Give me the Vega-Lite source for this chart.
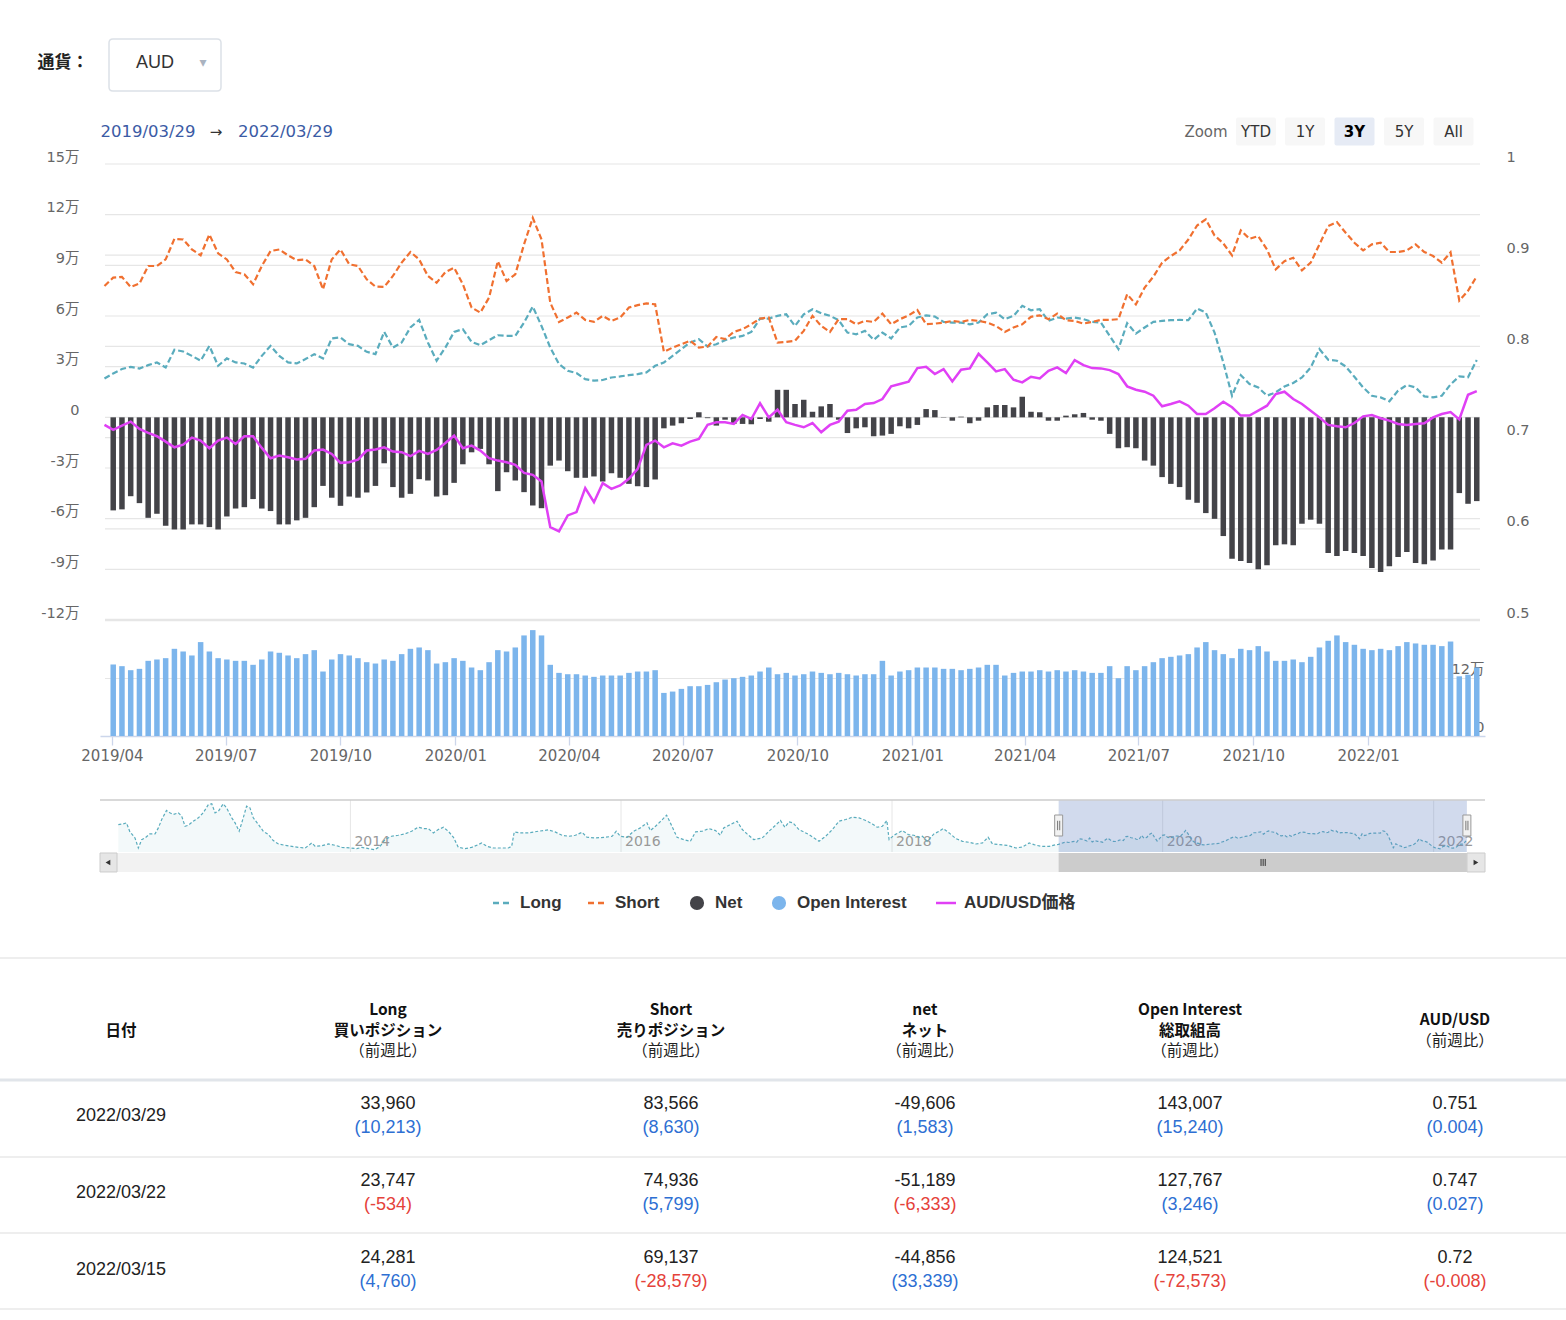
{
  "$schema": "https://vega.github.io/schema/vega-lite/v6.json",
  "padding": 0,
  "background": "#ffffff",
  "spacing": 0,
  "bounds": "flush",
  "config": {
    "view": {"stroke": null},
    "axis": {"labelFont": "DejaVu Sans, Noto Sans CJK JP", "labelColor": "#666666", "title": null, "grid": false}
  },
  "datasets": {
    "cot": [
      {"date":"2012-04-15","long":83400},{"date":"2012-04-28","long":85400},{"date":"2012-05-07","long":88500},{"date":"2012-05-16","long":62000},{"date":"2012-05-30","long":42700},{"date":"2012-06-08","long":12200},{"date":"2012-06-17","long":37600},{"date":"2012-06-26","long":42700},{"date":"2012-07-09","long":54900},{"date":"2012-07-23","long":54900},{"date":"2012-08-01","long":73200},{"date":"2012-08-10","long":98600},{"date":"2012-08-23","long":126100},{"date":"2012-09-01","long":119000},{"date":"2012-09-10","long":113900},{"date":"2012-09-24","long":119000},{"date":"2012-10-03","long":108800},{"date":"2012-10-12","long":78300},{"date":"2012-10-21","long":81400},{"date":"2012-11-03","long":93600},{"date":"2012-11-17","long":103800},{"date":"2012-11-30","long":119000},{"date":"2012-12-14","long":144400},{"date":"2012-12-23","long":146500},
      {"date":"2013-01-01","long":119000},{"date":"2013-01-10","long":124000},{"date":"2013-01-23","long":146500},{"date":"2013-02-01","long":134300},{"date":"2013-02-15","long":103800},{"date":"2013-02-24","long":88500},{"date":"2013-03-07","long":63100},{"date":"2013-03-18","long":103800},{"date":"2013-03-27","long":139400},{"date":"2013-04-05","long":134300},{"date":"2013-04-14","long":103800},{"date":"2013-04-28","long":83400},{"date":"2013-05-11","long":63100},{"date":"2013-05-25","long":52900},{"date":"2013-06-07","long":34600},{"date":"2013-06-21","long":24400},{"date":"2013-07-09","long":20300},{"date":"2013-07-27","long":17300},{"date":"2013-08-14","long":14200},{"date":"2013-09-01","long":12200},{"date":"2013-09-19","long":27500},{"date":"2013-09-28","long":17300},{"date":"2013-10-16","long":19300},{"date":"2013-11-03","long":24400},{"date":"2013-11-21","long":20300},{"date":"2013-12-09","long":14200},
      {"date":"2014-01-01","long":12200},{"date":"2014-01-18","long":10200},{"date":"2014-02-01","long":14200},{"date":"2014-02-19","long":10200},{"date":"2014-03-08","long":7100},{"date":"2014-03-22","long":17300},{"date":"2014-04-04","long":37600},{"date":"2014-04-22","long":47800},{"date":"2014-05-10","long":50900},{"date":"2014-05-28","long":54900},{"date":"2014-06-15","long":63100},{"date":"2014-07-03","long":75300},{"date":"2014-07-17","long":71200},{"date":"2014-07-30","long":71200},{"date":"2014-08-13","long":58000},{"date":"2014-08-26","long":68200},{"date":"2014-09-09","long":75300},{"date":"2014-09-22","long":63100},{"date":"2014-10-06","long":44800},{"date":"2014-10-19","long":14200},{"date":"2014-11-06","long":10200},{"date":"2014-11-24","long":14200},{"date":"2014-12-12","long":22400},{"date":"2014-12-21","long":27500},
      {"date":"2015-01-04","long":17300},{"date":"2015-01-22","long":12200},{"date":"2015-02-09","long":12200},{"date":"2015-03-03","long":12200},{"date":"2015-03-12","long":17300},{"date":"2015-03-19","long":61000},{"date":"2015-04-04","long":58000},{"date":"2015-04-26","long":58000},{"date":"2015-05-23","long":63100},{"date":"2015-06-19","long":67100},{"date":"2015-07-07","long":61000},{"date":"2015-07-26","long":50900},{"date":"2015-08-13","long":47800},{"date":"2015-08-31","long":50900},{"date":"2015-09-18","long":60000},{"date":"2015-10-01","long":44800},{"date":"2015-10-24","long":42700},{"date":"2015-11-20","long":44800},{"date":"2015-12-08","long":47800},{"date":"2015-12-19","long":63100},{"date":"2015-12-30","long":47800},
      {"date":"2016-01-17","long":44800},{"date":"2016-02-04","long":63100},{"date":"2016-02-22","long":73200},{"date":"2016-03-11","long":88500},{"date":"2016-03-20","long":65100},{"date":"2016-04-03","long":78300},{"date":"2016-04-19","long":95600},{"date":"2016-05-03","long":111900},{"date":"2016-05-13","long":88500},{"date":"2016-05-31","long":44800},{"date":"2016-06-18","long":37600},{"date":"2016-07-06","long":32500},{"date":"2016-07-20","long":61000},{"date":"2016-08-07","long":63100},{"date":"2016-08-25","long":71200},{"date":"2016-09-12","long":65100},{"date":"2016-09-25","long":50900},{"date":"2016-10-04","long":73200},{"date":"2016-10-22","long":83400},{"date":"2016-11-09","long":93600},{"date":"2016-11-23","long":68200},{"date":"2016-12-06","long":55000},{"date":"2016-12-24","long":37600},
      {"date":"2017-01-16","long":42700},{"date":"2017-02-03","long":63100},{"date":"2017-02-21","long":81400},{"date":"2017-03-06","long":95600},{"date":"2017-03-18","long":75300},{"date":"2017-03-29","long":91500},{"date":"2017-04-09","long":88500},{"date":"2017-04-25","long":68200},{"date":"2017-05-22","long":52900},{"date":"2017-06-18","long":32500},{"date":"2017-07-06","long":47800},{"date":"2017-07-24","long":68200},{"date":"2017-08-11","long":93600},{"date":"2017-08-29","long":98600},{"date":"2017-09-16","long":105800},{"date":"2017-10-04","long":103800},{"date":"2017-10-22","long":95600},{"date":"2017-11-09","long":85400},{"date":"2017-11-22","long":75300},{"date":"2017-12-06","long":78300},{"date":"2017-12-18","long":95600},{"date":"2017-12-24","long":37600},
      {"date":"2018-01-06","long":50900},{"date":"2018-01-29","long":65100},{"date":"2018-02-14","long":52900},{"date":"2018-03-01","long":50900},{"date":"2018-03-15","long":44800},{"date":"2018-03-24","long":47800},{"date":"2018-04-06","long":32500},{"date":"2018-04-24","long":54900},{"date":"2018-05-08","long":63100},{"date":"2018-05-19","long":71200},{"date":"2018-06-04","long":58000},{"date":"2018-06-22","long":40700},{"date":"2018-07-10","long":32500},{"date":"2018-07-28","long":29500},{"date":"2018-08-15","long":24400},{"date":"2018-09-02","long":27500},{"date":"2018-09-17","long":44800},{"date":"2018-09-29","long":24400},{"date":"2018-10-17","long":22400},{"date":"2018-11-08","long":20300},{"date":"2018-12-01","long":12200},{"date":"2018-12-19","long":15300},
      {"date":"2019-01-06","long":27500},{"date":"2019-01-19","long":22400},{"date":"2019-02-06","long":17300},{"date":"2019-03-01","long":17300},{"date":"2019-03-19","long":22400},
      {"date":"2019-03-26","long":23000,"short":77800,"aud":0.7139},
      {"date":"2019-04-02","long":26000,"short":82700,"net":-55100,"oi":149200,"aud":0.7084},
      {"date":"2019-04-09","long":28600,"short":83100,"net":-54500,"oi":145700,"aud":0.7131},
      {"date":"2019-04-16","long":29900,"short":77200,"net":-46700,"oi":137300,"aud":0.7175},
      {"date":"2019-04-23","long":28900,"short":79200,"net":-50800,"oi":140100,"aud":0.7095},
      {"date":"2019-04-30","long":30900,"short":89600,"net":-59500,"oi":156800,"aud":0.7051},
      {"date":"2019-05-07","long":32500,"short":89600,"net":-57100,"oi":159600,"aud":0.7015},
      {"date":"2019-05-14","long":29500,"short":93500,"net":-64200,"oi":162400,"aud":0.6956},
      {"date":"2019-05-21","long":40000,"short":105700,"net":-66400,"oi":181900,"aud":0.6894},
      {"date":"2019-05-28","long":39000,"short":105300,"net":-66400,"oi":176300,"aud":0.6923},
      {"date":"2019-06-04","long":36400,"short":99400,"net":-63400,"oi":168000,"aud":0.7000},
      {"date":"2019-06-11","long":33500,"short":95900,"net":-63400,"oi":195900,"aud":0.6967},
      {"date":"2019-06-18","long":42300,"short":108300,"net":-65000,"oi":176300,"aud":0.6883},
      {"date":"2019-06-25","long":30500,"short":97100,"net":-66400,"oi":162400,"aud":0.6967},
      {"date":"2019-07-02","long":34900,"short":93500,"net":-58700,"oi":159600,"aud":0.7000},
      {"date":"2019-07-09","long":32500,"short":86000,"net":-54000,"oi":156800,"aud":0.6931},
      {"date":"2019-07-16","long":31900,"short":84700,"net":-53200,"oi":156800,"aud":0.7015},
      {"date":"2019-07-23","long":29500,"short":78800,"net":-48400,"oi":148500,"aud":0.7015},
      {"date":"2019-07-30","long":36400,"short":89600,"net":-54000,"oi":159600,"aud":0.6887},
      {"date":"2019-08-06","long":42300,"short":98500,"net":-55500,"oi":176300,"aud":0.6774},
      {"date":"2019-08-13","long":36400,"short":99400,"net":-63400,"oi":173600,"aud":0.6803},
      {"date":"2019-08-20","long":32500,"short":95900,"net":-63400,"oi":168000,"aud":0.6785},
      {"date":"2019-08-27","long":31900,"short":93100,"net":-61000,"oi":162400,"aud":0.6759},
      {"date":"2019-09-03","long":34500,"short":93500,"net":-59500,"oi":170800,"aud":0.6767},
      {"date":"2019-09-10","long":37400,"short":89600,"net":-53200,"oi":179100,"aud":0.6858},
      {"date":"2019-09-17","long":34900,"short":75800,"net":-40600,"oi":134500,"aud":0.6869},
      {"date":"2019-09-24","long":46700,"short":93500,"net":-47600,"oi":159600,"aud":0.6821},
      {"date":"2019-10-01","long":47300,"short":99400,"net":-52400,"oi":170800,"aud":0.6723},
      {"date":"2019-10-08","long":43300,"short":90600,"net":-46900,"oi":168000,"aud":0.6730},
      {"date":"2019-10-15","long":42300,"short":89600,"net":-47600,"oi":162400,"aud":0.6759},
      {"date":"2019-10-22","long":38800,"short":81700,"net":-44500,"oi":154000,"aud":0.6858},
      {"date":"2019-10-29","long":37400,"short":77400,"net":-40600,"oi":151200,"aud":0.6869},
      {"date":"2019-11-05","long":50600,"short":77200,"net":-27200,"oi":159600,"aud":0.6894},
      {"date":"2019-11-12","long":41300,"short":83700,"net":-41300,"oi":156800,"aud":0.6847},
      {"date":"2019-11-19","long":44300,"short":91600,"net":-47600,"oi":170800,"aud":0.6840},
      {"date":"2019-11-26","long":53200,"short":97900,"net":-45300,"oi":181900,"aud":0.6796},
      {"date":"2019-12-03","long":57700,"short":93500,"net":-36600,"oi":184700,"aud":0.6854},
      {"date":"2019-12-10","long":44300,"short":83700,"net":-37400,"oi":179100,"aud":0.6821},
      {"date":"2019-12-17","long":33500,"short":79700,"net":-46900,"oi":151200,"aud":0.6865},
      {"date":"2019-12-24","long":41300,"short":86000,"net":-46100,"oi":154000,"aud":0.6940},
      {"date":"2019-12-31","long":50600,"short":88600,"net":-38800,"oi":162400,"aud":0.7022},
      {"date":"2020-01-07","long":52200,"short":78800,"net":-27800,"oi":156800,"aud":0.6883},
      {"date":"2020-01-14","long":44700,"short":65000,"net":-20700,"oi":142900,"aud":0.6912},
      {"date":"2020-01-21","long":42700,"short":62000,"net":-18700,"oi":137300,"aud":0.6858},
      {"date":"2020-01-28","long":45700,"short":70900,"net":-27800,"oi":154000,"aud":0.6774},
      {"date":"2020-02-04","long":48600,"short":92500,"net":-43700,"oi":179100,"aud":0.6748},
      {"date":"2020-02-11","long":48200,"short":80700,"net":-32500,"oi":176300,"aud":0.6730},
      {"date":"2020-02-18","long":48200,"short":84700,"net":-37400,"oi":184700,"aud":0.6701},
      {"date":"2020-02-25","long":56100,"short":102400,"net":-44300,"oi":209800,"aud":0.6613},
      {"date":"2020-03-03","long":65600,"short":118100,"net":-52200,"oi":220900,"aud":0.6592},
      {"date":"2020-03-10","long":54100,"short":105300,"net":-53800,"oi":209800,"aud":0.6519},
      {"date":"2020-03-17","long":41300,"short":67900,"net":-28600,"oi":148500,"aud":0.6019},
      {"date":"2020-03-24","long":31500,"short":56500,"net":-25600,"oi":131700,"aud":0.5972},
      {"date":"2020-03-31","long":27600,"short":59100,"net":-31900,"oi":128900,"aud":0.6147},
      {"date":"2020-04-07","long":26200,"short":62000,"net":-35800,"oi":128900,"aud":0.6183},
      {"date":"2020-04-14","long":22600,"short":57700,"net":-35800,"oi":126200,"aud":0.6446},
      {"date":"2020-04-21","long":21700,"short":56500,"net":-35000,"oi":123400,"aud":0.6292},
      {"date":"2020-04-28","long":22100,"short":60100,"net":-38000,"oi":126200,"aud":0.6500},
      {"date":"2020-05-05","long":23600,"short":57100,"net":-33100,"oi":126200,"aud":0.6438},
      {"date":"2020-05-12","long":24200,"short":59100,"net":-35800,"oi":126200,"aud":0.6475},
      {"date":"2020-05-19","long":25000,"short":65000,"net":-39400,"oi":131700,"aud":0.6548},
      {"date":"2020-05-26","long":25600,"short":66400,"net":-40800,"oi":134500,"aud":0.6657},
      {"date":"2020-06-02","long":26600,"short":67500,"net":-41300,"oi":134500,"aud":0.6920},
      {"date":"2020-06-09","long":30500,"short":66900,"net":-36800,"oi":137300,"aud":0.6967},
      {"date":"2020-06-16","long":32500,"short":38800,"net":-6500,"oi":89900,"aud":0.6894},
      {"date":"2020-06-23","long":36400,"short":41300,"net":-4900,"oi":92700,"aud":0.6938},
      {"date":"2020-06-30","long":40400,"short":43300,"net":-3500,"oi":98300,"aud":0.6912},
      {"date":"2020-07-07","long":44300,"short":45300,"net":-1000,"oi":103900,"aud":0.6956},
      {"date":"2020-07-14","long":46300,"short":41300,"net":3000,"oi":103900,"aud":0.6985},
      {"date":"2020-07-21","long":41900,"short":41900,"net":-500,"oi":106600,"aud":0.7139},
      {"date":"2020-07-28","long":43300,"short":47600,"net":-4900,"oi":112200,"aud":0.7168},
      {"date":"2020-08-04","long":45700,"short":46300,"net":-1400,"oi":117800,"aud":0.7168},
      {"date":"2020-08-11","long":47300,"short":50600,"net":-3900,"oi":120600,"aud":0.7150},
      {"date":"2020-08-18","long":48200,"short":52200,"net":-3900,"oi":123400,"aud":0.7248},
      {"date":"2020-08-25","long":50600,"short":55100,"net":-4100,"oi":126200,"aud":0.7204},
      {"date":"2020-09-01","long":58500,"short":58500,"net":-1000,"oi":134500,"aud":0.7376},
      {"date":"2020-09-08","long":58500,"short":59100,"net":-2600,"oi":142900,"aud":0.7222},
      {"date":"2020-09-15","long":60100,"short":44300,"net":16300,"oi":128900,"aud":0.7306},
      {"date":"2020-09-22","long":61000,"short":44700,"net":16300,"oi":131700,"aud":0.7168},
      {"date":"2020-09-29","long":54100,"short":45300,"net":7900,"oi":126200,"aud":0.7139},
      {"date":"2020-10-06","long":61000,"short":51200,"net":10400,"oi":128900,"aud":0.7113},
      {"date":"2020-10-13","long":64000,"short":60100,"net":3300,"oi":134500,"aud":0.7160},
      {"date":"2020-10-20","long":61600,"short":54100,"net":6500,"oi":131700,"aud":0.7058},
      {"date":"2020-10-27","long":60100,"short":50600,"net":7900,"oi":128900,"aud":0.7139},
      {"date":"2020-11-03","long":57500,"short":58100,"net":-1400,"oi":131700,"aud":0.7175},
      {"date":"2020-11-10","long":50200,"short":58100,"net":-9300,"oi":128900,"aud":0.7295},
      {"date":"2020-11-17","long":49200,"short":55100,"net":-6500,"oi":126200,"aud":0.7306},
      {"date":"2020-11-24","long":51200,"short":57100,"net":-5900,"oi":128900,"aud":0.7368},
      {"date":"2020-12-01","long":45900,"short":56500,"net":-11200,"oi":128900,"aud":0.7379},
      {"date":"2020-12-08","long":50200,"short":61400,"net":-10800,"oi":156800,"aud":0.7423},
      {"date":"2020-12-15","long":46700,"short":55100,"net":-9800,"oi":126200,"aud":0.7562},
      {"date":"2020-12-22","long":53200,"short":58100,"net":-5300,"oi":134500,"aud":0.7587},
      {"date":"2020-12-29","long":54100,"short":60400,"net":-6500,"oi":137300,"aud":0.7613},
      {"date":"2021-01-05","long":59100,"short":63600,"net":-4500,"oi":142900,"aud":0.7762},
      {"date":"2021-01-12","long":60400,"short":55100,"net":4900,"oi":142900,"aud":0.7777},
      {"date":"2021-01-19","long":59700,"short":55500,"net":4300,"oi":142900,"aud":0.7697},
      {"date":"2021-01-26","long":56500,"short":56100,"net":-200,"oi":140100,"aud":0.7751},
      {"date":"2021-02-02","long":56100,"short":57100,"net":-2000,"oi":140100,"aud":0.7616},
      {"date":"2021-02-09","long":56100,"short":56500,"net":400,"oi":137300,"aud":0.7744},
      {"date":"2021-02-16","long":55100,"short":57700,"net":-3500,"oi":140100,"aud":0.7759},
      {"date":"2021-02-23","long":56100,"short":57100,"net":-2000,"oi":142900,"aud":0.7919},
      {"date":"2021-03-02","long":61000,"short":56100,"net":5900,"oi":148500,"aud":0.7824},
      {"date":"2021-03-09","long":62000,"short":54100,"net":7300,"oi":148500,"aud":0.7726},
      {"date":"2021-03-16","long":58100,"short":50600,"net":7300,"oi":126200,"aud":0.7751},
      {"date":"2021-03-23","long":60100,"short":53200,"net":5900,"oi":131700,"aud":0.7635},
      {"date":"2021-03-30","long":66000,"short":55100,"net":12200,"oi":134500,"aud":0.7605},
      {"date":"2021-04-06","long":63400,"short":59500,"net":3300,"oi":134500,"aud":0.7667},
      {"date":"2021-04-13","long":64000,"short":60400,"net":3000,"oi":137300,"aud":0.7649},
      {"date":"2021-04-20","long":57100,"short":58100,"net":-2000,"oi":134500,"aud":0.7733},
      {"date":"2021-04-27","long":59100,"short":61400,"net":-2000,"oi":137300,"aud":0.7770},
      {"date":"2021-05-04","long":58500,"short":57500,"net":1000,"oi":134500,"aud":0.7707},
      {"date":"2021-05-11","long":59100,"short":57100,"net":1800,"oi":137300,"aud":0.7850},
      {"date":"2021-05-18","long":58100,"short":55500,"net":2600,"oi":134500,"aud":0.7795},
      {"date":"2021-05-25","long":56500,"short":56500,"net":-1400,"oi":131700,"aud":0.7762},
      {"date":"2021-06-01","long":56100,"short":57700,"net":-2000,"oi":131700,"aud":0.7759},
      {"date":"2021-06-08","long":48200,"short":57700,"net":-9800,"oi":145700,"aud":0.7740},
      {"date":"2021-06-15","long":40400,"short":58100,"net":-18300,"oi":120600,"aud":0.7697},
      {"date":"2021-06-22","long":55700,"short":72900,"net":-17700,"oi":145700,"aud":0.7562},
      {"date":"2021-06-29","long":49600,"short":66900,"net":-18300,"oi":137300,"aud":0.7525},
      {"date":"2021-07-06","long":53200,"short":76800,"net":-25600,"oi":145700,"aud":0.7503},
      {"date":"2021-07-13","long":56500,"short":83300,"net":-28600,"oi":154000,"aud":0.7460},
      {"date":"2021-07-20","long":57100,"short":91600,"net":-35400,"oi":162400,"aud":0.7343},
      {"date":"2021-07-27","long":57500,"short":95500,"net":-39400,"oi":165200,"aud":0.7368},
      {"date":"2021-08-03","long":57700,"short":98800,"net":-41300,"oi":168000,"aud":0.7398},
      {"date":"2021-08-10","long":57500,"short":105300,"net":-48800,"oi":170800,"aud":0.7350},
      {"date":"2021-08-17","long":64400,"short":113600,"net":-50600,"oi":184700,"aud":0.7259},
      {"date":"2021-08-24","long":62000,"short":117200,"net":-56700,"oi":195900,"aud":0.7259},
      {"date":"2021-08-31","long":50200,"short":107700,"net":-60100,"oi":179100,"aud":0.7321},
      {"date":"2021-09-07","long":32500,"short":103000,"net":-70300,"oi":170800,"aud":0.7394},
      {"date":"2021-09-14","long":12800,"short":95900,"net":-83700,"oi":162400,"aud":0.7332},
      {"date":"2021-09-21","long":25000,"short":110700,"net":-85100,"oi":181900,"aud":0.7241},
      {"date":"2021-09-28","long":19700,"short":105700,"net":-86200,"oi":179100,"aud":0.7241},
      {"date":"2021-10-05","long":17700,"short":107300,"net":-90000,"oi":187500,"aud":0.7295},
      {"date":"2021-10-12","long":12800,"short":99400,"net":-87600,"oi":176300,"aud":0.7350},
      {"date":"2021-10-19","long":14800,"short":87600,"net":-75800,"oi":156800,"aud":0.7478},
      {"date":"2021-10-26","long":18300,"short":92500,"net":-75200,"oi":156800,"aud":0.7503},
      {"date":"2021-11-02","long":20300,"short":94500,"net":-75800,"oi":159600,"aud":0.7423},
      {"date":"2021-11-09","long":23600,"short":87000,"net":-63000,"oi":154000,"aud":0.7368},
      {"date":"2021-11-16","long":29500,"short":91600,"net":-60600,"oi":165200,"aud":0.7295},
      {"date":"2021-11-23","long":40400,"short":102400,"net":-63000,"oi":184700,"aud":0.7222},
      {"date":"2021-11-30","long":34100,"short":113200,"net":-80400,"oi":198600,"aud":0.7139},
      {"date":"2021-12-07","long":33500,"short":115600,"net":-82100,"oi":209800,"aud":0.7124},
      {"date":"2021-12-14","long":30100,"short":109300,"net":-79200,"oi":195900,"aud":0.7113},
      {"date":"2021-12-21","long":24000,"short":103400,"net":-80400,"oi":190300,"aud":0.7160},
      {"date":"2021-12-28","long":17700,"short":98800,"net":-82100,"oi":181900,"aud":0.7233},
      {"date":"2022-01-04","long":12800,"short":102400,"net":-89200,"oi":179100,"aud":0.7248},
      {"date":"2022-01-11","long":11800,"short":103400,"net":-91600,"oi":181900,"aud":0.7212},
      {"date":"2022-01-18","long":9500,"short":97900,"net":-88200,"oi":179100,"aud":0.7186},
      {"date":"2022-01-25","long":15800,"short":97900,"net":-82700,"oi":187500,"aud":0.7150},
      {"date":"2022-02-01","long":19100,"short":98800,"net":-79700,"oi":195900,"aud":0.7139},
      {"date":"2022-02-08","long":17700,"short":102400,"net":-86200,"oi":193100,"aud":0.7150},
      {"date":"2022-02-15","long":12400,"short":97900,"net":-87000,"oi":190300,"aud":0.7157},
      {"date":"2022-02-22","long":11800,"short":95500,"net":-84700,"oi":190300,"aud":0.7222},
      {"date":"2022-03-01","long":12800,"short":91600,"net":-78200,"oi":187500,"aud":0.7259},
      {"date":"2022-03-08","long":19521,"short":97716,"net":-78195,"oi":197094,"aud":0.728},
      {"date":"2022-03-15","long":24281,"short":69137,"net":-44856,"oi":124521,"aud":0.72},
      {"date":"2022-03-22","long":23747,"short":74936,"net":-51189,"oi":127767,"aud":0.747},
      {"date":"2022-03-29","long":33960,"short":83566,"net":-49606,"oi":143007,"aud":0.751}
    ],
    "gridL": [{"v":150000},{"v":120000},{"v":90000},{"v":60000},{"v":30000},{"v":0},{"v":-30000},{"v":-60000},{"v":-90000}],
    "gridR": [{"v":0.9},{"v":0.8},{"v":0.7},{"v":0.6}],
    "oiGrid": [{"v":120000}],
    "navTicks": [{"d":"2014-01-01","label":"2014"},{"d":"2016-01-01","label":"2016"},{"d":"2018-01-01","label":"2018"},{"d":"2020-01-01","label":"2020"},{"d":"2022-01-01","label":"2022"}],
    "header": [
      {"i":0,"row":0,"kind":"label","text":"通貨："},
      {"i":1,"row":0,"kind":"select","text":"AUD"},
      {"i":2,"row":1,"kind":"from","text":"2019/03/29"},
      {"i":3,"row":1,"kind":"arrow","text":"→"},
      {"i":4,"row":1,"kind":"to","text":"2022/03/29"},
      {"i":5,"row":1,"kind":"zoomlabel","text":"Zoom"},
      {"i":6,"row":1,"kind":"button","text":"YTD","selected":false},
      {"i":7,"row":1,"kind":"button","text":"1Y","selected":false},
      {"i":8,"row":1,"kind":"button","text":"3Y","selected":true},
      {"i":9,"row":1,"kind":"button","text":"5Y","selected":false},
      {"i":10,"row":1,"kind":"button","text":"All","selected":false}
    ],
    "legend": [{"series":"Long","i":0},{"series":"Short","i":1},{"series":"Net","i":2},{"series":"Open Interest","i":3},{"series":"AUD/USD価格","i":4}],
    "thead": [
      {"c":0,"line":2,"text":"日付","sub":false},
      {"c":1,"line":1,"text":"Long","sub":false},{"c":1,"line":2,"text":"買いポジション","sub":false},{"c":1,"line":3,"text":"（前週比）","sub":true},
      {"c":2,"line":1,"text":"Short","sub":false},{"c":2,"line":2,"text":"売りポジション","sub":false},{"c":2,"line":3,"text":"（前週比）","sub":true},
      {"c":3,"line":1,"text":"net","sub":false},{"c":3,"line":2,"text":"ネット","sub":false},{"c":3,"line":3,"text":"（前週比）","sub":true},
      {"c":4,"line":1,"text":"Open Interest","sub":false},{"c":4,"line":2,"text":"総取組高","sub":false},{"c":4,"line":3,"text":"（前週比）","sub":true},
      {"c":5,"line":1.5,"text":"AUD/USD","sub":false},{"c":5,"line":2.5,"text":"（前週比）","sub":true}
    ],
    "tbody": [
      {"date":"2022/03/29","c":0,"value":"2022/03/29"},
      {"date":"2022/03/29","c":1,"value":"33,960","change":"(10,213)","delta":10213},
      {"date":"2022/03/29","c":2,"value":"83,566","change":"(8,630)","delta":8630},
      {"date":"2022/03/29","c":3,"value":"-49,606","change":"(1,583)","delta":1583},
      {"date":"2022/03/29","c":4,"value":"143,007","change":"(15,240)","delta":15240},
      {"date":"2022/03/29","c":5,"value":"0.751","change":"(0.004)","delta":0.004},
      {"date":"2022/03/22","c":0,"value":"2022/03/22"},
      {"date":"2022/03/22","c":1,"value":"23,747","change":"(-534)","delta":-534},
      {"date":"2022/03/22","c":2,"value":"74,936","change":"(5,799)","delta":5799},
      {"date":"2022/03/22","c":3,"value":"-51,189","change":"(-6,333)","delta":-6333},
      {"date":"2022/03/22","c":4,"value":"127,767","change":"(3,246)","delta":3246},
      {"date":"2022/03/22","c":5,"value":"0.747","change":"(0.027)","delta":0.027},
      {"date":"2022/03/15","c":0,"value":"2022/03/15"},
      {"date":"2022/03/15","c":1,"value":"24,281","change":"(4,760)","delta":4760},
      {"date":"2022/03/15","c":2,"value":"69,137","change":"(-28,579)","delta":-28579},
      {"date":"2022/03/15","c":3,"value":"-44,856","change":"(33,339)","delta":33339},
      {"date":"2022/03/15","c":4,"value":"124,521","change":"(-72,573)","delta":-72573},
      {"date":"2022/03/15","c":5,"value":"0.72","change":"(-0.008)","delta":-0.008}
    ],
    "tborders": [{"b":0},{"b":1},{"b":2},{"b":3},{"b":4}],
    "navUI": [{"element":"navigator"}]
  },
  "vconcat": [
    {
      "width": 1566, "height": 164,
      "data": {"name": "header"},
      "encoding": {
        "x": {"field": "i", "type": "quantitative", "scale": {"domain": [0,1,2,3,4,5,6,7,8,9,10], "range": [63,165,148,216,285.5,1206,1256,1305,1354.5,1404,1453.5], "nice": false, "zero": false}, "axis": null},
        "y": {"field": "row", "type": "quantitative", "scale": {"domain": [0,1], "range": [63,131.5], "nice": false, "zero": false}, "axis": null}
      },
      "layer": [
        {"transform": [{"filter": "datum.kind == 'select'"}], "mark": {"type": "point", "shape": "M-0.93,-0.43L0.93,-0.43Q1,-0.43 1,-0.36L1,0.43Q1,0.5 0.93,0.5L-0.93,0.5Q-1,0.5 -1,0.43L-1,-0.36Q-1,-0.43 -0.93,-0.43Z", "size": 12544, "filled": true, "fill": "#ffffff", "stroke": "#dce1e7", "strokeWidth": 1.5, "opacity": 1}},
        {"transform": [{"filter": "datum.kind == 'button'"}], "mark": {"type": "point", "shape": "M-0.9,-0.7L0.9,-0.7Q1,-0.7 1,-0.6L1,0.6Q1,0.7 0.9,0.7L-0.9,0.7Q-1,0.7 -1,0.6L-1,-0.6Q-1,-0.7 -0.9,-0.7Z", "size": 1600, "filled": true, "strokeWidth": 0, "opacity": 1},
         "encoding": {"fill": {"condition": {"test": "datum.selected", "value": "#e6ebf5"}, "value": "#f7f7f7"}}},
        {"transform": [{"filter": "datum.kind == 'label'"}], "mark": {"type": "text", "font": "Noto Sans CJK JP", "fontWeight": "bold", "fontSize": 17, "color": "#222222"}, "encoding": {"text": {"field": "text"}}},
        {"transform": [{"filter": "datum.kind == 'select'"}], "mark": {"type": "text", "font": "Liberation Sans", "fontSize": 18, "color": "#333333", "dx": -10}, "encoding": {"text": {"field": "text"}}},
        {"transform": [{"filter": "datum.kind == 'select'"}], "mark": {"type": "text", "text": "▾", "font": "DejaVu Sans", "fontSize": 14, "color": "#aab3c0", "dx": 38}},
        {"transform": [{"filter": "datum.kind == 'from' || datum.kind == 'to'"}], "mark": {"type": "text", "font": "DejaVu Sans", "fontSize": 16.5, "letterSpacing": 1.5, "color": "#3b5ba5"}, "encoding": {"text": {"field": "text"}}},
        {"transform": [{"filter": "datum.kind == 'arrow'"}], "mark": {"type": "text", "font": "DejaVu Sans", "fontSize": 15, "color": "#333333"}, "encoding": {"text": {"field": "text"}}},
        {"transform": [{"filter": "datum.kind == 'zoomlabel'"}], "mark": {"type": "text", "font": "DejaVu Sans", "fontSize": 15, "color": "#666666"}, "encoding": {"text": {"field": "text"}}},
        {"transform": [{"filter": "datum.kind == 'button' && !datum.selected"}], "mark": {"type": "text", "font": "DejaVu Sans", "fontSize": 15, "color": "#333333"}, "encoding": {"text": {"field": "text"}}},
        {"transform": [{"filter": "datum.kind == 'button' && datum.selected"}], "mark": {"type": "text", "font": "DejaVu Sans", "fontSize": 15, "fontWeight": "bold", "color": "#000000"}, "encoding": {"text": {"field": "text"}}}
      ]
    },
    {
      "width": 1566, "height": 456,
      "layer": [
        {
          "data": {"name": "gridR"},
          "mark": {"type": "rule", "color": "#e6e6e6", "strokeWidth": 1.2},
          "encoding": {
            "y": {"field": "v", "type": "quantitative", "scale": {"domain": [0.5, 1], "nice": false, "zero": false},
                  "axis": {"orient": "right", "offset": -81, "values": [0.5,0.6,0.7,0.8,0.9,1], "format": ".1~f", "domain": false, "ticks": false, "tickSize": 0, "labelPadding": 21, "labelFontSize": 14.5, "labelOffset": -7, "labelAlign": "left", "labelBaseline": "middle", "labelFlush": false, "labelOverlap": false}},
            "x": {"datum": {"year": 2019, "month": 3, "date": 26, "hours": 10, "utc": true}, "type": "temporal", "scale": {"type": "utc", "domain": [{"year": 2019, "month": 3, "date": 26, "hours": 10, "utc": true}, {"year": 2022, "month": 3, "date": 31, "hours": 14, "utc": true}], "range": [100, 1485]}, "axis": null},
            "x2": {"datum": {"year": 2022, "month": 3, "date": 31, "hours": 14, "utc": true}}
          }
        },
        {
          "layer": [
            {
              "data": {"name": "gridL"},
              "mark": {"type": "rule", "color": "#e6e6e6", "strokeWidth": 1.2},
              "encoding": {
                "y": {"field": "v", "type": "quantitative", "scale": {"domain": [-120000, 150000], "nice": false, "zero": false},
                      "axis": {"orient": "left", "offset": -100, "values": [150000,120000,90000,60000,30000,0,-30000,-60000,-90000,-120000], "labelExpr": "datum.value == 0 ? '0' : (datum.value / 10000) + '万'", "domain": false, "ticks": false, "tickSize": 0, "labelPadding": 21, "labelFontSize": 14.5, "labelOffset": -7, "labelAlign": "right", "labelBaseline": "middle", "labelFlush": false, "labelOverlap": false}},
                "x": {"datum": {"year": 2019, "month": 3, "date": 26, "hours": 10, "utc": true}, "type": "temporal", "scale": {"type": "utc", "domain": [{"year": 2019, "month": 3, "date": 26, "hours": 10, "utc": true}, {"year": 2022, "month": 3, "date": 31, "hours": 14, "utc": true}], "range": [100, 1485]}, "axis": null},
                "x2": {"datum": {"year": 2022, "month": 3, "date": 31, "hours": 14, "utc": true}}
              }
            },
            {
              "data": {"name": "oiGrid"},
              "mark": {"type": "rule", "color": "#e6e6e6", "strokeWidth": 2.5},
              "encoding": {
                "y": {"datum": -120000, "type": "quantitative"},
                "x": {"datum": {"year": 2019, "month": 3, "date": 26, "hours": 10, "utc": true}, "type": "temporal"},
                "x2": {"datum": {"year": 2022, "month": 3, "date": 31, "hours": 14, "utc": true}}
              }
            },
            {
              "data": {"name": "cot"},
              "transform": [{"filter": "isValid(datum.net)"}],
              "mark": {"type": "bar", "width": 5.5, "color": "#434348"},
              "encoding": {
                "x": {"field": "date", "type": "temporal"},
                "y": {"field": "net", "type": "quantitative"},
                "y2": {"datum": 0}
              }
            },
            {
              "data": {"name": "cot"},
              "transform": [{"filter": "isValid(datum.short)"}],
              "mark": {"type": "line", "color": "#5aacbd", "strokeWidth": 2.2, "strokeDash": [6, 3], "clip": true},
              "encoding": {
                "x": {"field": "date", "type": "temporal"},
                "y": {"field": "long", "type": "quantitative"}
              }
            },
            {
              "data": {"name": "cot"},
              "transform": [{"filter": "isValid(datum.short)"}],
              "mark": {"type": "line", "color": "#f07030", "strokeWidth": 2.2, "strokeDash": [6, 3], "clip": true},
              "encoding": {
                "x": {"field": "date", "type": "temporal"},
                "y": {"field": "short", "type": "quantitative"}
              }
            }
          ]
        },
        {
          "data": {"name": "cot"},
          "transform": [{"filter": "isValid(datum.aud)"}],
          "mark": {"type": "line", "color": "#e040f5", "strokeWidth": 2.5, "clip": true},
          "encoding": {
            "x": {"field": "date", "type": "temporal"},
            "y": {"field": "aud", "type": "quantitative", "scale": {"domain": [0.5, 1], "nice": false, "zero": false}, "axis": null}
          }
        }
      ],
      "resolve": {"scale": {"y": "independent"}, "axis": {"y": "independent"}}
    },
    {
      "width": 1566, "height": 116,
      "layer": [
        {
          "data": {"name": "oiGrid"},
          "mark": {"type": "rule", "color": "#e6e6e6", "strokeWidth": 1.2},
          "encoding": {
            "y": {"field": "v", "type": "quantitative", "scale": {"domain": [0, 242000], "nice": false, "zero": false},
                  "axis": {"orient": "right", "offset": -81, "values": [0, 120000], "labelExpr": "datum.value == 0 ? '0' : (datum.value / 10000) + '万'", "domain": false, "ticks": false, "tickSize": 0, "labelAlign": "right", "labelPadding": -1, "labelOffset": -9, "labelBaseline": "middle", "labelFontSize": 14.5, "labelFlush": false, "labelOverlap": false}},
            "x": {"datum": {"year": 2019, "month": 3, "date": 26, "hours": 10, "utc": true}, "type": "temporal", "scale": {"type": "utc", "domain": [{"year": 2019, "month": 3, "date": 26, "hours": 10, "utc": true}, {"year": 2022, "month": 3, "date": 31, "hours": 14, "utc": true}], "range": [100, 1485]}},
            "x2": {"datum": {"year": 2022, "month": 3, "date": 31, "hours": 14, "utc": true}}
          }
        },
        {
          "data": {"name": "cot"},
          "transform": [{"filter": "isValid(datum.oi)"}],
          "mark": {"type": "bar", "width": 5.5, "color": "#7cb5ec"},
          "encoding": {
            "x": {"field": "date", "type": "temporal",
                  "axis": {"orient": "bottom", "values": [{"year":2019,"month":4,"date":1,"utc":true},{"year":2019,"month":7,"date":1,"utc":true},{"year":2019,"month":10,"date":1,"utc":true},{"year":2020,"month":1,"date":1,"utc":true},{"year":2020,"month":4,"date":1,"utc":true},{"year":2020,"month":7,"date":1,"utc":true},{"year":2020,"month":10,"date":1,"utc":true},{"year":2021,"month":1,"date":1,"utc":true},{"year":2021,"month":4,"date":1,"utc":true},{"year":2021,"month":7,"date":1,"utc":true},{"year":2021,"month":10,"date":1,"utc":true},{"year":2022,"month":1,"date":1,"utc":true}],
                           "labelExpr": "utcFormat(datum.value, '%Y/%m')", "domain": true, "domainColor": "#ccd6eb", "domainWidth": 1.5, "ticks": true, "tickColor": "#ccd6eb", "tickSize": 9, "tickWidth": 1.3, "labelPadding": 3, "labelFontSize": 15, "labelFlush": false, "labelOverlap": false}},
            "y": {"field": "oi", "type": "quantitative"},
            "y2": {"datum": 0}
          }
        }
      ]
    },
    {
      "width": 1566, "height": 136,
      "layer": [
        {
          "data": {"name": "navUI"},
          "mark": {"type": "rect", "fill": "#f2f2f2"},
          "encoding": {
            "x": {"datum": {"year": 2012, "month": 2, "date": 25, "hours": 14, "utc": true}, "type": "temporal", "scale": {"type": "utc", "domain": [{"year": 2012, "month": 2, "date": 25, "hours": 14, "utc": true}, {"year": 2022, "month": 5, "date": 19, "hours": 10, "utc": true}], "range": [100, 1485]}, "axis": null},
            "x2": {"datum": {"year": 2022, "month": 5, "date": 19, "hours": 10, "utc": true}},
            "y": {"datum": -3000, "type": "quantitative", "scale": {"domain": [0, 158000], "range": [116, 64], "nice": false, "zero": false}, "axis": null},
            "y2": {"datum": -60700}
          }
        },
        {
          "data": {"name": "navUI"},
          "mark": {"type": "rect", "fill": "#cccccc"},
          "encoding": {
            "x": {"datum": {"year": 2019, "month": 3, "date": 26, "hours": 10, "utc": true}, "type": "temporal"},
            "x2": {"datum": {"year": 2022, "month": 3, "date": 31, "hours": 14, "utc": true}},
            "y": {"datum": -3000, "type": "quantitative"},
            "y2": {"datum": -60700}
          }
        },
        {
          "data": {"name": "navUI"},
          "mark": {"type": "rect", "fill": "#e6e6e6", "stroke": "#cccccc", "strokeWidth": 1},
          "encoding": {
            "x": {"datum": {"year": 2012, "month": 2, "date": 25, "hours": 14, "utc": true}, "type": "temporal"},
            "x2": {"datum": {"year": 2012, "month": 4, "date": 11, "hours": 12, "utc": true}},
            "y": {"datum": -3000, "type": "quantitative"},
            "y2": {"datum": -60700}
          }
        },
        {
          "data": {"name": "navUI"},
          "mark": {"type": "rect", "fill": "#e6e6e6", "stroke": "#cccccc", "strokeWidth": 1},
          "encoding": {
            "x": {"datum": {"year": 2022, "month": 3, "date": 31, "hours": 20, "utc": true}, "type": "temporal"},
            "x2": {"datum": {"year": 2022, "month": 5, "date": 19, "hours": 10, "utc": true}},
            "y": {"datum": -3000, "type": "quantitative"},
            "y2": {"datum": -60700}
          }
        },
        {
          "data": {"name": "navUI"},
          "mark": {"type": "point", "shape": "triangle-left", "size": 30, "filled": true, "fill": "#333333", "opacity": 1, "strokeWidth": 0},
          "encoding": {
            "x": {"datum": {"year": 2012, "month": 3, "date": 18, "utc": true}, "type": "temporal"},
            "y": {"datum": -31800, "type": "quantitative"}
          }
        },
        {
          "data": {"name": "navUI"},
          "mark": {"type": "point", "shape": "triangle-right", "size": 30, "filled": true, "fill": "#333333", "opacity": 1, "strokeWidth": 0},
          "encoding": {
            "x": {"datum": {"year": 2022, "month": 4, "date": 25, "utc": true}, "type": "temporal"},
            "y": {"datum": -31800, "type": "quantitative"}
          }
        },
        {
          "data": {"name": "navUI"},
          "mark": {"type": "point", "shape": "M-0.6,-1L-0.6,1M0,-1L0,1M0.6,-1L0.6,1", "size": 49, "filled": false, "stroke": "#333333", "strokeWidth": 1, "opacity": 1},
          "encoding": {
            "x": {"datum": {"year": 2020, "month": 9, "date": 28, "utc": true}, "type": "temporal"},
            "y": {"datum": -31800, "type": "quantitative"}
          }
        },
        {
          "data": {"name": "navTicks"},
          "mark": {"type": "rule", "color": "#e6e6e6", "strokeWidth": 1},
          "encoding": {
            "x": {"field": "d", "type": "temporal"},
            "y": {"datum": 0, "type": "quantitative"},
            "y2": {"datum": 158000}
          }
        },
        {
          "data": {"name": "cot"},
          "mark": {"type": "area", "color": "#5aacbd", "opacity": 0.07},
          "encoding": {
            "x": {"field": "date", "type": "temporal"},
            "y": {"field": "long", "type": "quantitative"},
            "y2": {"datum": 0}
          }
        },
        {
          "data": {"name": "navTicks"},
          "mark": {"type": "text", "align": "left", "baseline": "middle", "dx": 4, "font": "DejaVu Sans", "fontSize": 14, "color": "#999999"},
          "encoding": {
            "x": {"field": "d", "type": "temporal"},
            "y": {"datum": 30000, "type": "quantitative"},
            "text": {"field": "label"}
          }
        },
        {
          "data": {"name": "cot"},
          "mark": {"type": "line", "color": "#5aacbd", "strokeWidth": 1.2, "strokeDash": [3, 2]},
          "encoding": {
            "x": {"field": "date", "type": "temporal"},
            "y": {"field": "long", "type": "quantitative"}
          }
        },
        {
          "data": {"name": "navUI"},
          "mark": {"type": "rect", "fill": "#6685c2", "opacity": 0.3},
          "encoding": {
            "x": {"datum": {"year": 2019, "month": 3, "date": 26, "hours": 10, "utc": true}, "type": "temporal"},
            "x2": {"datum": {"year": 2022, "month": 3, "date": 31, "hours": 14, "utc": true}},
            "y": {"datum": 0, "type": "quantitative"},
            "y2": {"datum": 158000}
          }
        },
        {
          "data": {"name": "navUI"},
          "mark": {"type": "rule", "color": "#cccccc", "strokeWidth": 1.5},
          "encoding": {
            "x": {"datum": {"year": 2012, "month": 2, "date": 25, "hours": 14, "utc": true}, "type": "temporal"},
            "x2": {"datum": {"year": 2022, "month": 5, "date": 19, "hours": 10, "utc": true}},
            "y": {"datum": 158000, "type": "quantitative"}
          }
        },
        {
          "data": {"name": "navUI"},
          "mark": {"type": "point", "shape": "M-0.38,-1L0.38,-1L0.38,1L-0.38,1Z", "size": 441, "filled": true, "fill": "#f2f2f2", "stroke": "#999999", "strokeWidth": 1, "opacity": 1},
          "encoding": {
            "x": {"datum": {"year": 2019, "month": 3, "date": 26, "hours": 10, "utc": true}, "type": "temporal"},
            "y": {"datum": 80500, "type": "quantitative"}
          }
        },
        {
          "data": {"name": "navUI"},
          "mark": {"type": "point", "shape": "M-0.38,-1L0.38,-1L0.38,1L-0.38,1Z", "size": 441, "filled": true, "fill": "#f2f2f2", "stroke": "#999999", "strokeWidth": 1, "opacity": 1},
          "encoding": {
            "x": {"datum": {"year": 2022, "month": 3, "date": 31, "hours": 14, "utc": true}, "type": "temporal"},
            "y": {"datum": 80500, "type": "quantitative"}
          }
        },
        {
          "data": {"name": "navUI"},
          "mark": {"type": "point", "shape": "M-0.1,-0.45L-0.1,0.45M0.1,-0.45L0.1,0.45", "size": 441, "filled": false, "stroke": "#777777", "strokeWidth": 1, "opacity": 1},
          "encoding": {
            "x": {"datum": {"year": 2019, "month": 3, "date": 26, "hours": 10, "utc": true}, "type": "temporal"},
            "y": {"datum": 80500, "type": "quantitative"}
          }
        },
        {
          "data": {"name": "navUI"},
          "mark": {"type": "point", "shape": "M-0.1,-0.45L-0.1,0.45M0.1,-0.45L0.1,0.45", "size": 441, "filled": false, "stroke": "#777777", "strokeWidth": 1, "opacity": 1},
          "encoding": {
            "x": {"datum": {"year": 2022, "month": 3, "date": 31, "hours": 14, "utc": true}, "type": "temporal"},
            "y": {"datum": 80500, "type": "quantitative"}
          }
        }
      ]
    },
    {
      "width": 1566, "height": 448,
      "layer": [
        {
          "data": {"name": "tborders"},
          "mark": {"type": "rule", "clip": true},
          "encoding": {
            "y": {"field": "b", "type": "quantitative", "scale": {"domain": [0,1,2,3,4], "range": [86,208,285,361,437], "nice": false, "zero": false}, "axis": null},
            "strokeWidth": {"condition": {"test": "datum.b == 1", "value": 3}, "value": 1.5},
            "color": {"condition": {"test": "datum.b == 1", "value": "#e1e5ea"}, "value": "#e8e8e8"}
          }
        },
        {
          "data": {"name": "legend"},
          "encoding": {
            "x": {"field": "i", "type": "quantitative", "scale": {"domain": [0,1,2,3,4], "range": [502,597,697,779,946], "nice": false, "zero": false}, "axis": null},
            "y": {"datum": 0, "type": "quantitative", "scale": {"domain": [0, 1], "range": [31, 0], "nice": false, "zero": false}, "axis": null}
          },
          "layer": [
            {"transform": [{"filter": "datum.i == 0"}], "mark": {"type": "point", "shape": "stroke", "size": 324, "filled": false, "stroke": "#5aacbd", "strokeWidth": 2.5, "strokeDash": [6, 4], "opacity": 1}},
            {"transform": [{"filter": "datum.i == 1"}], "mark": {"type": "point", "shape": "stroke", "size": 324, "filled": false, "stroke": "#f07030", "strokeWidth": 2.5, "strokeDash": [6, 4], "opacity": 1}},
            {"transform": [{"filter": "datum.i == 2"}], "mark": {"type": "point", "shape": "circle", "size": 200, "filled": true, "fill": "#434348", "strokeWidth": 0, "opacity": 1}},
            {"transform": [{"filter": "datum.i == 3"}], "mark": {"type": "point", "shape": "circle", "size": 200, "filled": true, "fill": "#7cb5ec", "strokeWidth": 0, "opacity": 1}},
            {"transform": [{"filter": "datum.i == 4"}], "mark": {"type": "point", "shape": "stroke", "size": 400, "filled": false, "stroke": "#e040f5", "strokeWidth": 2.5, "opacity": 1}},
            {"mark": {"type": "text", "align": "left", "baseline": "middle", "dx": 18, "font": "Liberation Sans, Noto Sans CJK JP", "fontWeight": "bold", "fontSize": 17, "color": "#333333"}, "encoding": {"text": {"field": "series"}}}
          ]
        },
        {
          "data": {"name": "thead"},
          "encoding": {
            "x": {"field": "c", "type": "quantitative", "scale": {"domain": [0,1,2,3,4,5], "range": [121,388,671,925,1190,1455], "nice": false, "zero": false}, "axis": null},
            "y": {"field": "line", "type": "quantitative", "scale": {"domain": [1, 3], "range": [138, 179], "nice": false, "zero": false}, "axis": null}
          },
          "layer": [
            {"transform": [{"filter": "!datum.sub"}], "mark": {"type": "text", "font": "Noto Sans CJK JP", "fontWeight": "bold", "fontSize": 15.5, "color": "#111111"}, "encoding": {"text": {"field": "text"}}},
            {"transform": [{"filter": "datum.sub"}], "mark": {"type": "text", "font": "Noto Sans CJK JP", "fontSize": 15.5, "color": "#222222"}, "encoding": {"text": {"field": "text"}}}
          ]
        },
        {
          "data": {"name": "tbody"},
          "encoding": {
            "x": {"field": "c", "type": "quantitative", "scale": {"domain": [0,1,2,3,4,5], "range": [121,388,671,925,1190,1455], "nice": false, "zero": false}, "axis": null},
            "y": {"field": "date", "type": "nominal", "scale": {"type": "point", "domain": ["2022/03/29","2022/03/22","2022/03/15"], "range": [244, 398], "padding": 0}, "axis": null}
          },
          "layer": [
            {"transform": [{"filter": "datum.c == 0"}], "mark": {"type": "text", "font": "Liberation Sans", "fontSize": 18, "color": "#222222"}, "encoding": {"text": {"field": "value"}}},
            {"transform": [{"filter": "datum.c > 0"}], "mark": {"type": "text", "font": "Liberation Sans", "fontSize": 18, "color": "#222222", "dy": -12}, "encoding": {"text": {"field": "value"}}},
            {"transform": [{"filter": "datum.c > 0"}], "mark": {"type": "text", "font": "Liberation Sans", "fontSize": 18, "dy": 12},
             "encoding": {"text": {"field": "change"}, "color": {"condition": {"test": "datum.delta < 0", "value": "#e5423a"}, "value": "#2e6fd3"}}}
          ]
        }
      ],
      "resolve": {"scale": {"x": "independent", "y": "independent"}}
    }
  ]
}
